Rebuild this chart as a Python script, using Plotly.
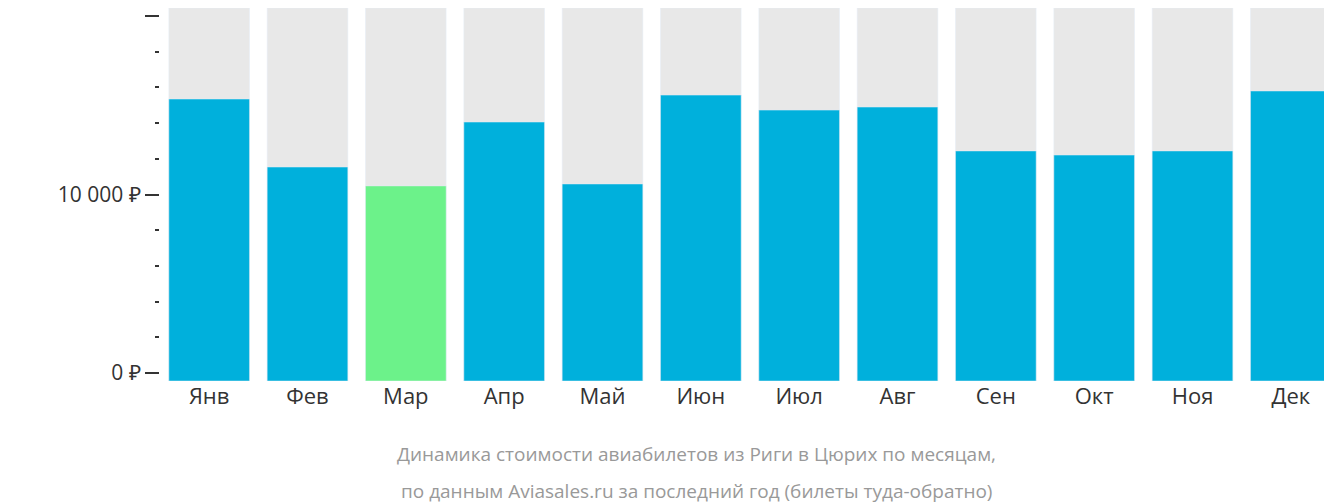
import plotly.graph_objects as go

months = ["Янв","Фев","Мар","Апр","Май","Июн","Июл","Авг","Сен","Окт","Ноя","Дек"]
prices = [15350, 11540, 10480, 14060, 10590, 15570, 14730, 14900, 12440, 12210, 12440, 15800]
colors = ["#00b0dc"]*12
colors[2] = "#6cf28a"
ymin, ymax = -450, 20450

fig = go.Figure()
fig.add_bar(x=months, y=[ymax-ymin]*12, base=ymin, marker_color="#e8e8e8", hoverinfo="skip")
fig.add_bar(x=months, y=[p-ymin for p in prices], base=ymin, marker_color=colors)
fig.update_layout(
    width=1332, height=502, barmode="overlay", bargap=0.18, showlegend=False,
    plot_bgcolor="white", paper_bgcolor="white",
    margin=dict(l=152, r=0, t=0, b=129, autoexpand=False),
    font=dict(family="Open Sans", color="#333"),
    xaxis=dict(tickfont=dict(size=22, color="#333"), showgrid=False, ticks="", automargin=False),
    yaxis=dict(range=[ymin, ymax], tickvals=[0, 10000, 20000], automargin=False,
               ticktext=["0 ₽", "10 000 ₽", "20 000 ₽"], showgrid=False, zeroline=False,
               ticks="outside", ticklen=14, tickwidth=2, tickcolor="#333",
               tickfont=dict(size=21, color="#333"),
               minor=dict(dtick=2000, tick0=0, ticks="outside", ticklen=4, tickwidth=2, tickcolor="#333")),
    annotations=[
        dict(text="Динамика стоимости авиабилетов из Риги в Цюрих по месяцам,",
             xref="paper", yref="paper", x=0.455, y=-0.155, yanchor="top", showarrow=False,
             font=dict(size=19, color="#999")),
        dict(text="по данным Aviasales.ru за последний год (билеты туда-обратно)",
             xref="paper", yref="paper", x=0.455, y=-0.255, yanchor="top", showarrow=False,
             font=dict(size=19, color="#999")),
    ],
)
fig.write_html("out.html")
